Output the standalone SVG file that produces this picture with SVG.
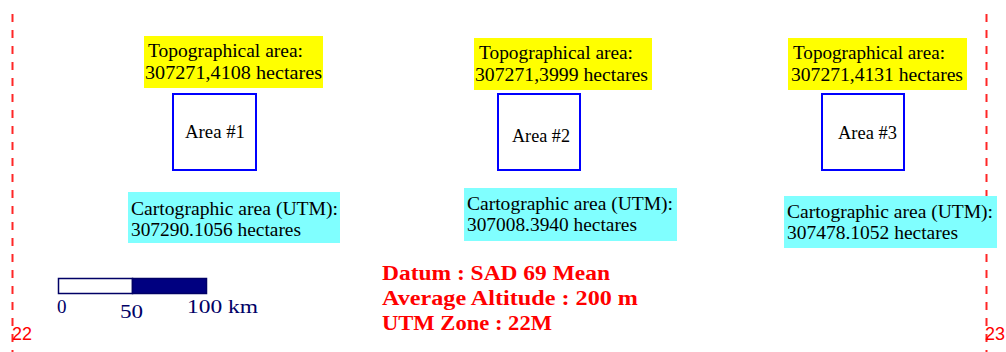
<svg xmlns="http://www.w3.org/2000/svg" width="1006" height="352" viewBox="0 0 1006 352">
<style>
.topo{fill:#ffff00}
.carto{fill:#80ffff}
.area{fill:#ffffff;stroke:#0000ff;stroke-width:2}
.t{font-family:"Liberation Serif","Times New Roman",serif;font-size:18px;fill:#000000}
.red{font-family:"Liberation Serif","Times New Roman",serif;font-size:20px;font-weight:bold;fill:#ff0000}
.zone{font-family:"Liberation Sans",Arial,sans-serif;font-size:18px;fill:#ff0000}
.grid{stroke:#ff0000;stroke-width:2;stroke-dasharray:8 8;fill:none;opacity:0.85}
.sc{font-family:"Liberation Serif","Times New Roman",serif;font-size:19px;fill:#000066}
</style>
<rect width="1006" height="352" fill="#ffffff"/>
<g id="connectors">
<line class="grid" x1="12.5" y1="14" x2="12.5" y2="352"/>
<line class="grid" x1="986.5" y1="14" x2="986.5" y2="352"/>
</g>
<g id="topo1">
<rect class="topo" x="144" y="36" width="179" height="52"/>
<text class="t" x="148" y="57" textLength="155" lengthAdjust="spacingAndGlyphs">Topographical area:</text>
<text class="t" x="145" y="79" textLength="177" lengthAdjust="spacingAndGlyphs">307271,4108 hectares</text>
</g>
<g id="topo2">
<rect class="topo" x="474" y="38" width="178" height="52"/>
<text class="t" x="479" y="59" textLength="154" lengthAdjust="spacingAndGlyphs">Topographical area:</text>
<text class="t" x="475" y="81" textLength="173" lengthAdjust="spacingAndGlyphs">307271,3999 hectares</text>
</g>
<g id="topo3">
<rect class="topo" x="788" y="38" width="179" height="52"/>
<text class="t" x="793" y="59" textLength="152" lengthAdjust="spacingAndGlyphs">Topographical area:</text>
<text class="t" x="791" y="81" textLength="172" lengthAdjust="spacingAndGlyphs">307271,4131 hectares</text>
</g>
<g id="area1">
<rect class="area" x="173" y="94" width="83" height="76"/>
<text class="t" x="185" y="138" textLength="60" lengthAdjust="spacingAndGlyphs">Area #1</text>
</g>
<g id="area2">
<rect class="area" x="498" y="94" width="82" height="76"/>
<text class="t" x="512" y="142" textLength="58" lengthAdjust="spacingAndGlyphs">Area #2</text>
</g>
<g id="area3">
<rect class="area" x="822" y="94" width="82" height="76"/>
<text class="t" x="838" y="139" textLength="59" lengthAdjust="spacingAndGlyphs">Area #3</text>
</g>
<g id="carto1">
<rect class="carto" x="128" y="192" width="212" height="51"/>
<text class="t" x="131" y="215" textLength="207" lengthAdjust="spacingAndGlyphs">Cartographic area (UTM):</text>
<text class="t" x="131" y="236" textLength="170" lengthAdjust="spacingAndGlyphs">307290.1056 hectares</text>
</g>
<g id="carto2">
<rect class="carto" x="464" y="188" width="213" height="53"/>
<text class="t" x="467" y="210" textLength="206" lengthAdjust="spacingAndGlyphs">Cartographic area (UTM):</text>
<text class="t" x="467" y="231" textLength="170" lengthAdjust="spacingAndGlyphs">307008.3940 hectares</text>
</g>
<g id="carto3">
<rect class="carto" x="784" y="196" width="213" height="52"/>
<text class="t" x="787" y="218" textLength="206" lengthAdjust="spacingAndGlyphs">Cartographic area (UTM):</text>
<text class="t" x="787" y="239" textLength="171" lengthAdjust="spacingAndGlyphs">307478.1052 hectares</text>
</g>
<g id="scalebar">
<rect x="58.5" y="278.5" width="74" height="15" fill="#ffffff" stroke="#000066" stroke-width="1.5"/>
<rect x="132.5" y="278.5" width="74" height="15" fill="#000080" stroke="#000066" stroke-width="1.5"/>
<text class="sc" x="57" y="313">0</text>
<text class="sc" x="120" y="318" textLength="23" lengthAdjust="spacingAndGlyphs">50</text>
<text class="sc" x="187" y="313" textLength="71" lengthAdjust="spacingAndGlyphs">100 km</text>
</g>
<g id="info">
<text class="red" x="382" y="280" textLength="228" lengthAdjust="spacingAndGlyphs">Datum : SAD 69 Mean</text>
<text class="red" x="382" y="305" textLength="256" lengthAdjust="spacingAndGlyphs">Average Altitude : 200 m</text>
<text class="red" x="382" y="330" textLength="170" lengthAdjust="spacingAndGlyphs">UTM Zone : 22M</text>
</g>
<g id="zones">
<text class="zone" x="12" y="340">22</text>
<text class="zone" x="985" y="340">23</text>
</g>
</svg>
